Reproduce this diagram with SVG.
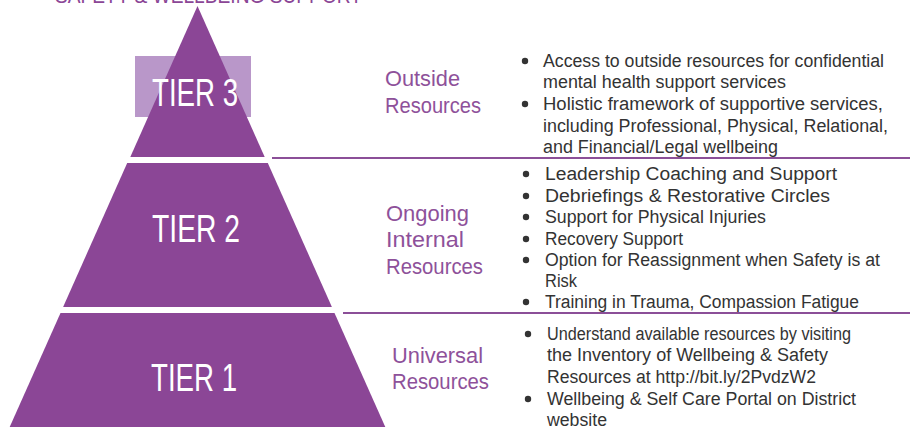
<svg xmlns="http://www.w3.org/2000/svg" width="910" height="427" viewBox="0 0 910 427">
  <style>
    .tier { fill: #8b4696; }
    .tier-box { fill: #b997c9; }
    .tier-name { font-family: "Liberation Sans", Arial, sans-serif; font-size: 38px; fill: #ffffff; }
    .label { font-family: "Liberation Sans", Arial, sans-serif; font-size: 22px; fill: #8e519a; }
    .item { font-family: "Liberation Sans", Arial, sans-serif; font-size: 18px; fill: #333333; }
    .dot { fill: #333333; }
    .rule { stroke: #8b4f98; stroke-width: 2; fill: none; }
    .title { font-family: "Liberation Sans", Arial, sans-serif; font-size: 22px; fill: #8b4696; }
  </style>

  <rect width="910" height="427" fill="#ffffff"/>

  <!-- heading, running off the top edge -->
  <text class="title" x="55" y="3" textLength="307" lengthAdjust="spacingAndGlyphs">SAFETY &amp; WELLBEING SUPPORT</text>

  <!-- separators between the tiers -->
  <g id="connectors">
    <line class="rule" x1="272" y1="158" x2="910" y2="158"/>
    <line class="rule" x1="343" y1="313" x2="910" y2="313"/>
  </g>

  <g id="tier3">
    <rect class="tier-box" x="135" y="56" width="116" height="61"/>
    <polygon class="tier" points="197.5,6 264.7,157 130.3,157"/>
    <text class="tier-name" x="152" y="106" textLength="86" lengthAdjust="spacingAndGlyphs">TIER 3</text>
    <text class="label" x="385" y="86" textLength="75" lengthAdjust="spacingAndGlyphs">Outside</text>
    <text class="label" x="385" y="113" textLength="96" lengthAdjust="spacingAndGlyphs">Resources</text>
    <circle class="dot" cx="525" cy="61" r="3.2"/>
    <text class="item" x="543" y="67" textLength="341" lengthAdjust="spacingAndGlyphs">Access to outside resources for confidential</text>
    <text class="item" x="543" y="88" textLength="243" lengthAdjust="spacingAndGlyphs">mental health support services</text>
    <circle class="dot" cx="525" cy="104" r="3.2"/>
    <text class="item" x="543" y="110" textLength="340" lengthAdjust="spacingAndGlyphs">Holistic framework of supportive services,</text>
    <text class="item" x="543" y="132" textLength="345" lengthAdjust="spacingAndGlyphs">including Professional, Physical, Relational,</text>
    <text class="item" x="543" y="153" textLength="235" lengthAdjust="spacingAndGlyphs">and Financial/Legal wellbeing</text>
  </g>

  <g id="tier2">
    <polygon class="tier" points="127.2,163 267.8,163 331.9,307 63.1,307"/>
    <text class="tier-name" x="152" y="242" textLength="88" lengthAdjust="spacingAndGlyphs">TIER 2</text>
    <text class="label" x="386" y="221" textLength="83" lengthAdjust="spacingAndGlyphs">Ongoing</text>
    <text class="label" x="386" y="247" textLength="78" lengthAdjust="spacingAndGlyphs">Internal</text>
    <text class="label" x="386" y="274" textLength="97" lengthAdjust="spacingAndGlyphs">Resources</text>
    <circle class="dot" cx="526" cy="174" r="3.2"/>
    <text class="item" x="545" y="180" textLength="292" lengthAdjust="spacingAndGlyphs">Leadership Coaching and Support</text>
    <circle class="dot" cx="526" cy="196" r="3.2"/>
    <text class="item" x="545" y="202" textLength="285" lengthAdjust="spacingAndGlyphs">Debriefings &amp; Restorative Circles</text>
    <circle class="dot" cx="526" cy="217" r="3.2"/>
    <text class="item" x="545" y="223" textLength="221" lengthAdjust="spacingAndGlyphs">Support for Physical Injuries</text>
    <circle class="dot" cx="526" cy="239" r="3.2"/>
    <text class="item" x="545" y="245" textLength="138" lengthAdjust="spacingAndGlyphs">Recovery Support</text>
    <circle class="dot" cx="526" cy="260" r="3.2"/>
    <text class="item" x="545" y="266" textLength="335" lengthAdjust="spacingAndGlyphs">Option for Reassignment when Safety is at</text>
    <text class="item" x="545" y="287" textLength="32" lengthAdjust="spacingAndGlyphs">Risk</text>
    <circle class="dot" cx="526" cy="302" r="3.2"/>
    <text class="item" x="545" y="308" textLength="314" lengthAdjust="spacingAndGlyphs">Training in Trauma, Compassion Fatigue</text>
  </g>

  <g id="tier1">
    <polygon class="tier" points="60.5,313 334.5,313 385.3,427 9.7,427"/>
    <text class="tier-name" x="151" y="391" textLength="86" lengthAdjust="spacingAndGlyphs">TIER 1</text>
    <text class="label" x="392" y="363" textLength="91" lengthAdjust="spacingAndGlyphs">Universal</text>
    <text class="label" x="392" y="389" textLength="97" lengthAdjust="spacingAndGlyphs">Resources</text>
    <circle class="dot" cx="528" cy="334" r="3.2"/>
    <text class="item" x="547" y="340" textLength="304" lengthAdjust="spacingAndGlyphs">Understand available resources by visiting</text>
    <text class="item" x="547" y="361" textLength="281" lengthAdjust="spacingAndGlyphs">the Inventory of Wellbeing &amp; Safety</text>
    <text class="item" x="547" y="383" textLength="269" lengthAdjust="spacingAndGlyphs">Resources at http://bit.ly/2PvdzW2</text>
    <circle class="dot" cx="528" cy="399" r="3.2"/>
    <text class="item" x="547" y="405" textLength="309" lengthAdjust="spacingAndGlyphs">Wellbeing &amp; Self Care Portal on District</text>
    <text class="item" x="547" y="426" textLength="60" lengthAdjust="spacingAndGlyphs">website</text>
  </g>
</svg>
